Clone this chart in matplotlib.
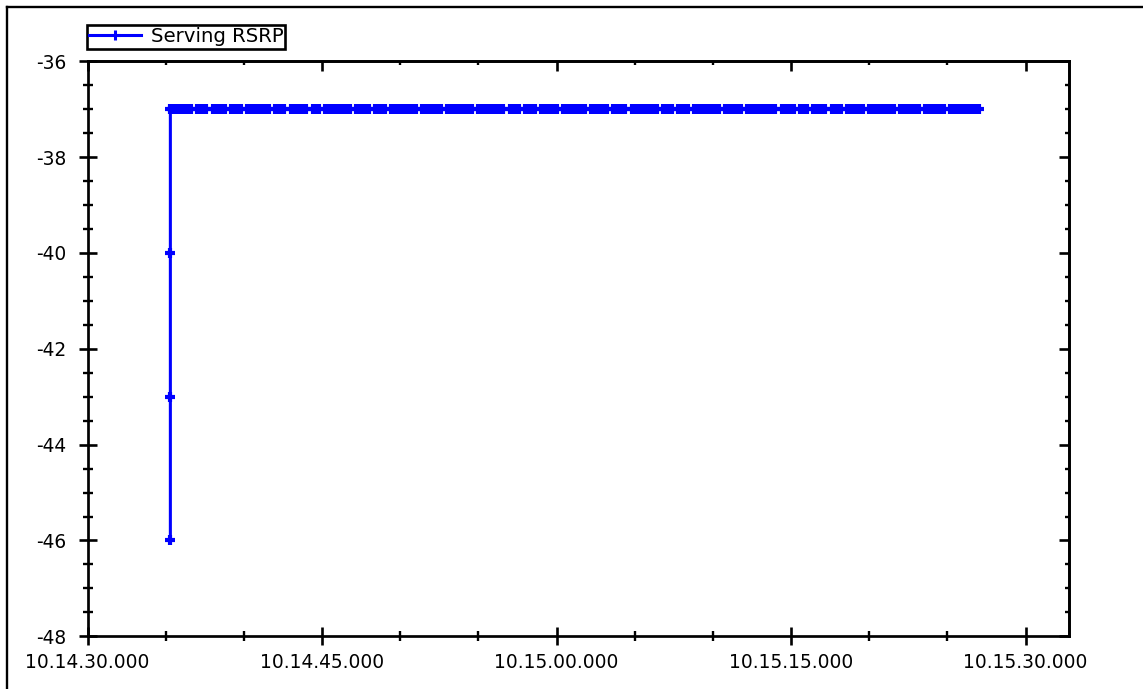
import matplotlib
matplotlib.use("Agg")
import matplotlib.pyplot as plt
from matplotlib.ticker import MultipleLocator, FixedLocator, FixedFormatter, NullFormatter
from matplotlib.lines import Line2D

plt.rcParams['font.family'] = ['DejaVu Sans']
plt.rcParams['axes.unicode_minus'] = False

# ---------------- data ----------------
series_name = "Serving RSRP"
# time in seconds after 10.14.30.000
jump_times = [5.3, 5.3, 5.3, 5.3]
jump_values = [-46, -43, -40, -37]
steady_value = -37
steady_times = [
    5.4, 5.6, 5.8, 6.0, 6.2, 6.4, 6.6,
    7.0, 7.2, 7.4, 7.6,
    8.0, 8.2, 8.4, 8.6, 8.8,
    9.2, 9.4, 9.6, 9.8,
    10.2, 10.4, 10.6, 10.8, 11.0, 11.2, 11.4, 11.6,
    12.0, 12.2, 12.4, 12.6,
    13.0, 13.2, 13.4, 13.6, 13.8, 14.0,
    14.4, 14.6, 14.8,
    15.2, 15.4, 15.6, 15.8, 16.0, 16.2, 16.4, 16.6, 16.8,
    17.2, 17.4, 17.6, 17.8, 18.0,
    18.4, 18.6, 18.8, 19.0,
    19.4, 19.6, 19.8, 20.0, 20.2, 20.4, 20.6, 20.8, 21.0,
    21.4, 21.6, 21.8, 22.0, 22.2, 22.4, 22.6,
    23.0, 23.2, 23.4, 23.6, 23.8, 24.0, 24.2, 24.4, 24.6,
    25.0, 25.2, 25.4, 25.6, 25.8, 26.0, 26.2, 26.4, 26.6,
    27.0, 27.2, 27.4, 27.6,
    28.0, 28.2, 28.4, 28.6,
    29.0, 29.2, 29.4, 29.6, 29.8, 30.0,
    30.4, 30.6, 30.8, 31.0, 31.2, 31.4, 31.6, 31.8,
    32.2, 32.4, 32.6, 32.8, 33.0, 33.2,
    33.6, 33.8, 34.0, 34.2, 34.4,
    34.8, 35.0, 35.2, 35.4, 35.6, 35.8, 36.0, 36.2, 36.4,
    36.8, 37.0, 37.2, 37.4,
    37.8, 38.0, 38.2, 38.4,
    38.8, 39.0, 39.2, 39.4, 39.6, 39.8, 40.0, 40.2, 40.4,
    40.8, 41.0, 41.2, 41.4, 41.6, 41.8,
    42.2, 42.4, 42.6, 42.8, 43.0, 43.2, 43.4, 43.6, 43.8, 44.0,
    44.4, 44.6, 44.8, 45.0, 45.2,
    45.6, 45.8, 46.0,
    46.4, 46.6, 46.8, 47.0, 47.2,
    47.6, 47.8, 48.0, 48.2,
    48.6, 48.8, 49.0, 49.2, 49.4, 49.6,
    50.0, 50.2, 50.4, 50.6, 50.8, 51.0, 51.2, 51.4, 51.6,
    52.0, 52.2, 52.4, 52.6, 52.8, 53.0, 53.2,
    53.6, 53.8, 54.0, 54.2, 54.4, 54.6, 54.8,
    55.2, 55.4, 55.6, 55.8, 56.0, 56.2, 56.4, 56.6, 56.8, 57.0,
]
x_tick_seconds = [0, 15, 30, 45, 60]
x_tick_labels = ["10.14.30.000", "10.14.45.000", "10.15.00.000",
                 "10.15.15.000", "10.15.30.000"]
y_ticks = [-36, -38, -40, -42, -44, -46, -48]

times = jump_times + steady_times
values = jump_values + [steady_value] * len(steady_times)

# ---------------- figure ----------------
W, H = 1143, 689
fig = plt.figure(figsize=(W / 100, H / 100), dpi=100)
left, right, top, bottom = 87.5, 1069.3, 61.3, 636.3
ax = fig.add_axes([left / W, 1 - bottom / H, (right - left) / W, (bottom - top) / H])

line, = ax.plot(times, values, color='#0000ff', lw=2.2, marker='+', ms=7.2, mew=3.0,
                label=series_name)
line.set_snap(False)

ax.set_xlim(0, 62.8)
ax.set_ylim(-48, -36)

ax.xaxis.set_major_locator(FixedLocator(x_tick_seconds))
ax.xaxis.set_major_formatter(FixedFormatter(x_tick_labels))
ax.xaxis.set_minor_locator(MultipleLocator(5))
ax.yaxis.set_major_locator(FixedLocator(y_ticks))
ax.yaxis.set_minor_locator(MultipleLocator(0.5))

for s in ax.spines.values():
    s.set_linewidth(1.95)

ax.tick_params(axis='both', which='major', direction='inout', length=13, width=1.9,
               labelsize=13.4, colors='black')
ax.tick_params(axis='both', which='minor', direction='inout', length=6.5, width=1.7)
ax.tick_params(axis='x', which='major', pad=5.8)
ax.tick_params(axis='y', which='major', pad=9)

# top / right: inward ticks only
secx = ax.secondary_xaxis('top')
secx.xaxis.set_major_locator(FixedLocator(x_tick_seconds))
secx.xaxis.set_minor_locator(MultipleLocator(5))
secx.xaxis.set_major_formatter(NullFormatter())
secx.tick_params(which='major', direction='in', length=7.2, width=1.9)
secx.tick_params(which='minor', direction='in', length=3, width=1.7)
secx.spines['top'].set_linewidth(1.95)

secy = ax.secondary_yaxis('right')
secy.yaxis.set_major_locator(FixedLocator(y_ticks))
secy.yaxis.set_minor_locator(MultipleLocator(0.5))
secy.yaxis.set_major_formatter(NullFormatter())
secy.tick_params(which='major', direction='in', length=7.2, width=1.9)
secy.tick_params(which='minor', direction='in', length=3, width=1.7)
secy.spines['right'].set_linewidth(1.95)

leg = ax.legend(loc='upper left', bbox_to_anchor=(87 / W, 1 - 25 / H),
                bbox_transform=fig.transFigure, frameon=True, fancybox=False,
                edgecolor='black', framealpha=1, borderaxespad=0, borderpad=0.12,
                handlelength=2.6, handletextpad=0.5, fontsize=14.2)
leg.get_frame().set_linewidth(1.9)
for h in leg.get_lines():
    h.set_markersize(6.5)
    h.set_markeredgewidth(2.2)

# outer frame lines
fig.add_artist(Line2D([6.5 / W, 6.5 / W], [0, 1 - 7 / H], transform=fig.transFigure,
                      color='black', lw=1.7))
fig.add_artist(Line2D([6.5 / W, 1], [1 - 7 / H, 1 - 7 / H], transform=fig.transFigure,
                      color='black', lw=1.7))

fig.savefig("out.png", dpi=100)
